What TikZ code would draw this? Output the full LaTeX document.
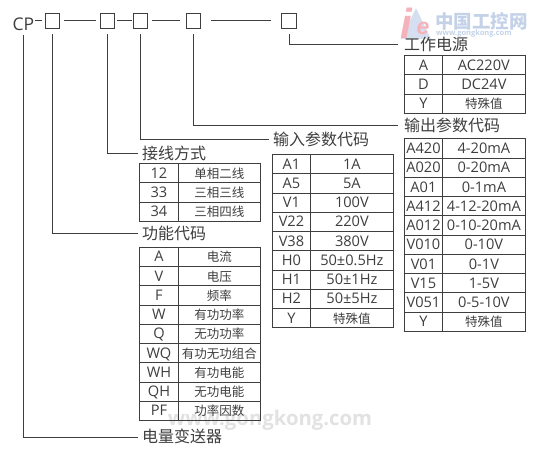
\documentclass[tikz,border=0pt]{standalone}
\usepackage{array}
\usepackage{fontspec}
\usetikzlibrary{positioning}
\setmainfont{Open Sans}
\newfontfamily\cjk{Noto Sans CJK SC}
\newfontfamily\logofont{Liberation Sans}
\definecolor{inkgray}{RGB}{62,62,62}
\definecolor{markblue}{RGB}{196,210,232}
\definecolor{markpink}{RGB}{246,178,186}
\definecolor{markgray}{RGB}{226,226,226}
\newcommand{\zh}[1]{{\cjk\fontsize{12.5}{14}\selectfont #1}}
\newcommand{\rowstrut}{\rule[-4.2pt]{0pt}{18.3pt}}
\newcolumntype{K}{>{\centering\arraybackslash\rowstrut}p{37.6pt}}
\newcolumntype{W}{>{\centering\arraybackslash\rowstrut}p{81.4pt}}
\setlength{\tabcolsep}{0pt}
\setlength{\arrayrulewidth}{0.95pt}
\renewcommand{\arraystretch}{0}
\tikzset{
    codebox/.style={draw=inkgray, line width=0.9pt, fill=white, minimum size=14.5pt, inner sep=0pt},
    title/.style={anchor=west, inner sep=0pt, text=inkgray, text height=11pt, text depth=0pt, font=\cjk\fontsize{16}{18}\selectfont},
    codetable/.style={anchor=north west, inner sep=0pt, text=inkgray, font=\fontsize{14.6}{16}\selectfont},
    lead/.style={draw=inkgray, line width=1pt},
}
\begin{document}
\begin{tikzpicture}[x=1pt,y=-1pt]
    \useasboundingbox (0,0) rectangle (538,454);

    % watermarks
    \fill[markblue!70] (416,8) -- (431,39) -- (401,39) -- cycle;
    \node[inner sep=0pt, text=markpink, font=\logofont\bfseries\itshape\fontsize{42}{42}\selectfont] (logoi) at (406,23) {i};
    \node[inner sep=0pt, text=markpink, font=\logofont\bfseries\itshape\fontsize{23}{23}\selectfont] (logoe) at (423,28) {e};
    \node[anchor=west, inner sep=0pt, text=markblue, font=\cjk\bfseries\fontsize{18.5}{20}\selectfont] (markzh) at (435,21) {中国工控网};
    \node[anchor=west, inner sep=0pt, text=markblue, font=\bfseries\fontsize{7.5}{8}\selectfont] (markweb) at (436,33.5) {www.gongkong.com};
    \node[inner sep=0pt, text=markgray, font=\bfseries\fontsize{20.3}{22}\selectfont] (markfoot) at (270,420) {www.gongkong.com};

    % code line
    \node[anchor=west, inner sep=0pt, text=inkgray, font=\fontsize{17.5}{18}\selectfont] (cp) at (12.5,24) {CP};
    \node[codebox] (b1) at (52.5,21) {};
    \node[codebox] (b2) at (107.5,21) {};
    \node[codebox] (b3) at (140.5,21) {};
    \node[codebox] (b4) at (193.5,21) {};
    \node[codebox] (b5) at (289,21) {};
    \coordinate (cpend) at (33,21);
    \draw[lead, shorten <=2pt, shorten >=3pt] (cpend) -- (b1);
    \draw[lead, shorten <=4pt, shorten >=4pt] (b1) -- (b2);
    \draw[lead, shorten <=2pt, shorten >=1pt] (b2) -- (b3);
    \draw[lead, shorten <=4pt, shorten >=6pt] (b3) -- (b4);
    \draw[lead, shorten <=10pt, shorten >=10pt] (b4) -- (b5);

    % titles
    \node[title] (power) at (404,45) {工作电源};
    \node[title] (output) at (404,126) {输出参数代码};
    \node[title] (input) at (273,140) {输入参数代码};
    \node[title] (wiring) at (142,154) {接线方式};
    \node[title] (function) at (142,234) {功能代码};
    \node[title] (device) at (142,437) {电量变送器};

    % leaders
    \coordinate (cpfoot) at (23,21);
    \draw[lead, shorten <=14pt, shorten >=4pt] (cpfoot) |- (device.west);
    \draw[lead, shorten <=13pt, shorten >=4pt] (b1.center) |- (function.west);
    \draw[lead, shorten <=13pt, shorten >=4pt] (b2.center) |- (wiring.west);
    \draw[lead, shorten <=13pt, shorten >=4pt] (b3.center) |- (input.west);
    \draw[lead, shorten <=13pt, shorten >=6pt] (b4.center) |- (output.west);
    \draw[lead, shorten <=13pt, shorten >=6pt] (b5.center) |- (power.west);

    % tables
    \node[codetable] (powertab) at (403.5,55) {
        \begin{tabular}{|K|W|}
            \hline
            A & AC220V\\ \hline
            D & DC24V\\ \hline
            Y & \zh{特殊值}\\ \hline
        \end{tabular}
    };
    \node[codetable] (outputtab) at (403.5,138.3) {
        \begin{tabular}{|K|W|}
            \hline
            A420 & 4-20mA\\ \hline
            A020 & 0-20mA\\ \hline
            A01 & 0-1mA\\ \hline
            A412 & 4-12-20mA\\ \hline
            A012 & 0-10-20mA\\ \hline
            V010 & 0-10V\\ \hline
            V01 & 0-1V\\ \hline
            V15 & 1-5V\\ \hline
            V051 & 0-5-10V\\ \hline
            Y & \zh{特殊值}\\ \hline
        \end{tabular}
    };
    \node[codetable] (inputtab) at (271.5,154) {
        \begin{tabular}{|K|W|}
            \hline
            A1 & 1A\\ \hline
            A5 & 5A\\ \hline
            V1 & 100V\\ \hline
            V22 & 220V\\ \hline
            V38 & 380V\\ \hline
            H0 & 50±0.5Hz\\ \hline
            H1 & 50±1Hz\\ \hline
            H2 & 50±5Hz\\ \hline
            Y & \zh{特殊值}\\ \hline
        \end{tabular}
    };
    \node[codetable] (wiringtab) at (139,163) {
        \begin{tabular}{|K|W|}
            \hline
            12 & \zh{单相二线}\\ \hline
            33 & \zh{三相三线}\\ \hline
            34 & \zh{三相四线}\\ \hline
        \end{tabular}
    };
    \node[codetable] (functiontab) at (139,246.7) {
        \begin{tabular}{|K|W|}
            \hline
            A & \zh{电流}\\ \hline
            V & \zh{电压}\\ \hline
            F & \zh{频率}\\ \hline
            W & \zh{有功功率}\\ \hline
            Q & \zh{无功功率}\\ \hline
            WQ & \zh{有功无功组合}\\ \hline
            WH & \zh{有功电能}\\ \hline
            QH & \zh{无功电能}\\ \hline
            PF & \zh{功率因数}\\ \hline
        \end{tabular}
    };
\end{tikzpicture}
\end{document}
